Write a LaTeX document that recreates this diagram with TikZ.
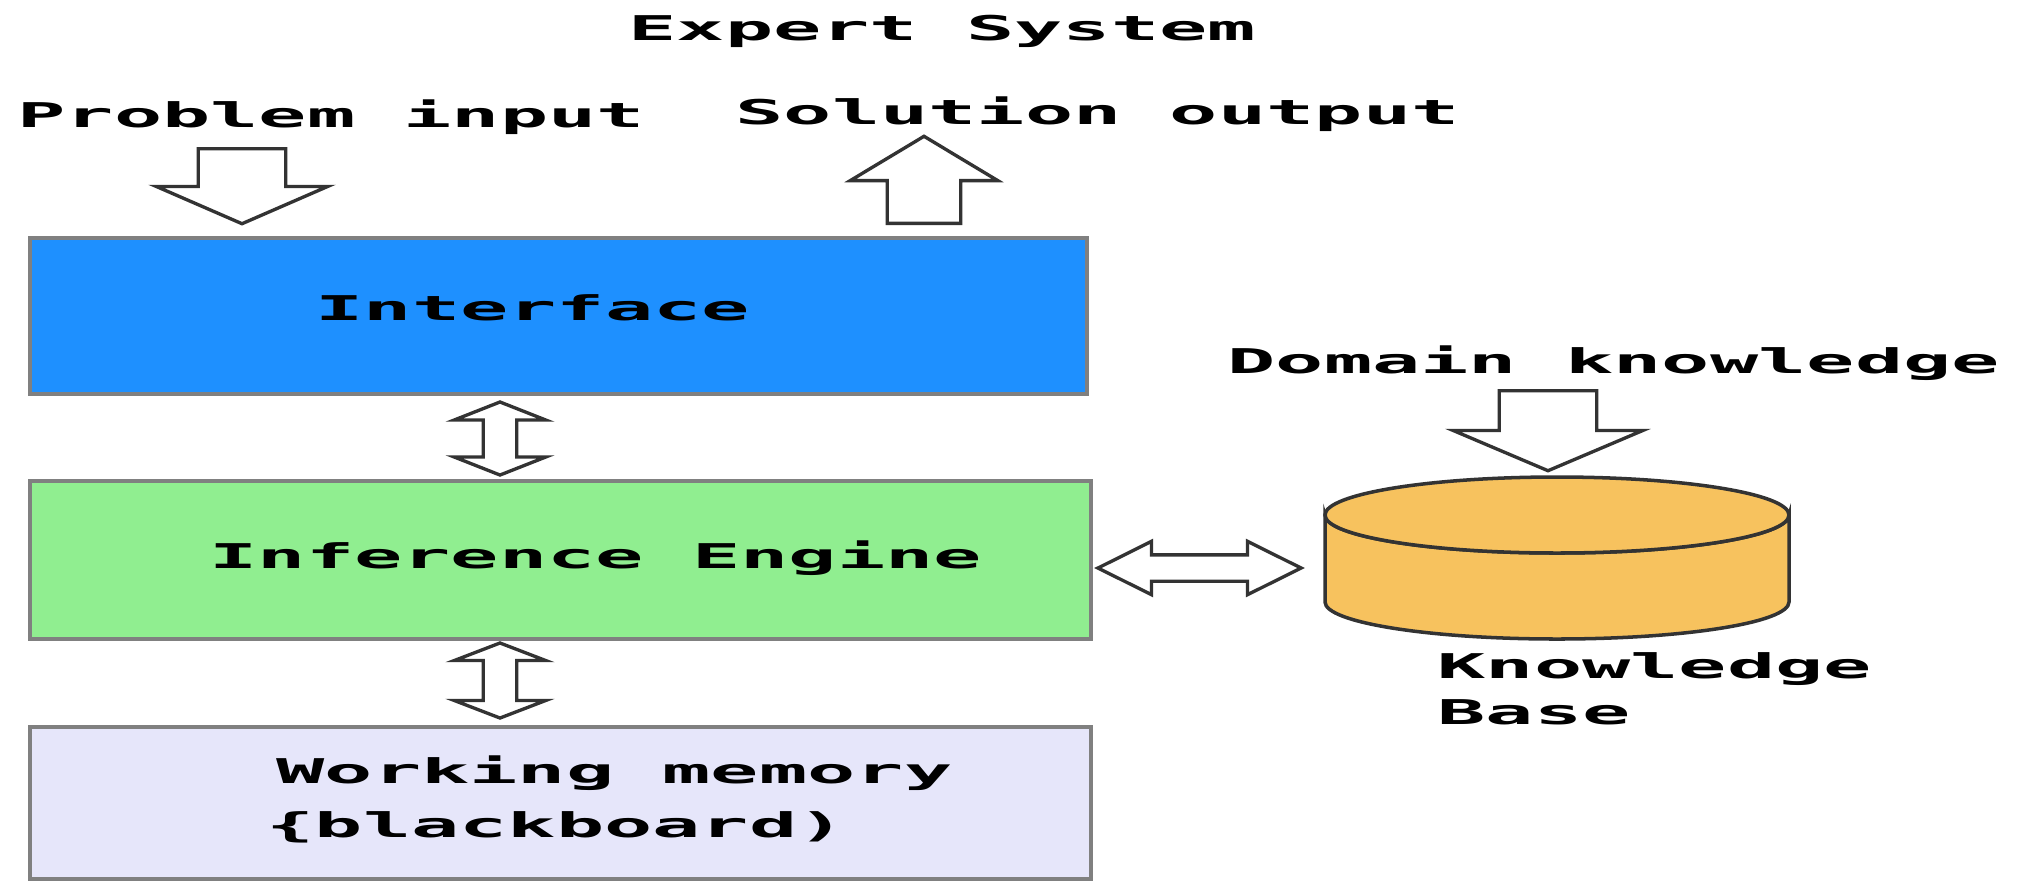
\documentclass[tikz,border=0pt]{standalone}
\usepackage{fontspec}
\setmonofont{DejaVu Sans Mono}
\usetikzlibrary{shapes.arrows}
\definecolor{interfaceblue}{HTML}{1E90FF}
\definecolor{enginegreen}{HTML}{90EE90}
\definecolor{memorylav}{HTML}{E6E6FA}
\definecolor{baseorange}{HTML}{F7C25E}
\definecolor{boxgray}{HTML}{808080}
\definecolor{arrowgray}{HTML}{333333}
\tikzset{
    x=0.01cm, y=-0.01cm,
    lbl/.style={inner sep=0pt, anchor=base west, xscale=2.35, transform shape,
        node font={\fontsize{9.7}{14}\selectfont\ttfamily\bfseries}},
    box/.style={draw=boxgray, line width=1.25pt, minimum width=10.56cm, inner sep=0pt},
    onearrow/.style={draw=arrowgray, fill=white, line width=0.95pt, single arrow,
        inner ysep=0pt, single arrow head indent=0pt},
    twoarrow/.style={draw=arrowgray, fill=white, line width=0.95pt, double arrow,
        inner ysep=0pt, double arrow head indent=0pt}
}
\begin{document}
\begin{tikzpicture}
    \useasboundingbox (0,0) rectangle (2021,881);

    % Boxes
    \node[box, fill=interfaceblue, minimum height=1.56cm] (interface) at (558.5,316) {};
    \node[box, fill=enginegreen, minimum width=10.6cm, minimum height=1.58cm] (engine) at (560.5,560) {};
    \node[box, fill=memorylav, minimum width=10.6cm, minimum height=1.52cm] (memory) at (560.5,803) {};

    % Knowledge base
    \draw[arrowgray, fill=baseorange, line width=1pt] (1325,515) -- (1325,602)
        arc[x radius=232, y radius=37, start angle=180, end angle=0]
        -- (1789,515)
        arc[x radius=232, y radius=38, start angle=0, end angle=180] -- cycle;
    \draw[arrowgray, fill=baseorange, line width=1pt] (1557,515) ellipse[x radius=232, y radius=38];

    % Block arrows
    \node[onearrow, shape border rotate=270, inner xsep=0.42cm, minimum height=0.75cm,
        single arrow head extend=0.42cm, single arrow tip angle=133, anchor=tail] (problemarrow) at (242,147) {};
    \node[onearrow, shape border rotate=90, inner xsep=0.35cm, minimum height=0.87cm,
        single arrow head extend=0.37cm, single arrow tip angle=118, anchor=tail] (solutionarrow) at (924,225) {};
    \node[onearrow, shape border rotate=270, inner xsep=0.47cm, minimum height=0.8cm,
        single arrow head extend=0.46cm, single arrow tip angle=134, anchor=tail] (domainarrow) at (1548,389) {};
    \node[twoarrow, shape border rotate=90, inner xsep=0.15cm, minimum height=0.73cm,
        double arrow head extend=0.29cm, double arrow tip angle=137] (upperlink) at (500,438.5) {};
    \node[twoarrow, shape border rotate=90, inner xsep=0.15cm, minimum height=0.75cm,
        double arrow head extend=0.29cm, double arrow tip angle=138] (lowerlink) at (500,680.5) {};
    \node[twoarrow, inner xsep=0pt, inner ysep=0.115cm, minimum height=2.03cm,
        double arrow head extend=0.135cm, double arrow tip angle=53] (baselink) at (1199.5,568) {};

    % Labels
    \node[lbl] (title) at (627,40) {Expert System};
    \node[lbl] (problem) at (16,127) {Problem input};
    \node[lbl] (solution) at (734,124) {Solution output};
    \node[lbl] (interfacetext) at (314,320) {Interface};
    \node[lbl] (enginetext) at (208,568) {Inference Engine};
    \node[lbl] (memorytext) at (275,783) {Working memory};
    \node[lbl] (blackboard) at (265,837) {\{blackboard)};
    \node[lbl] (domain) at (1226,373) {Domain knowledge};
    \node[lbl] (knowledge) at (1436,678) {Knowledge};
    \node[lbl] (basetext) at (1436,724) {Base};
\end{tikzpicture}
\end{document}
